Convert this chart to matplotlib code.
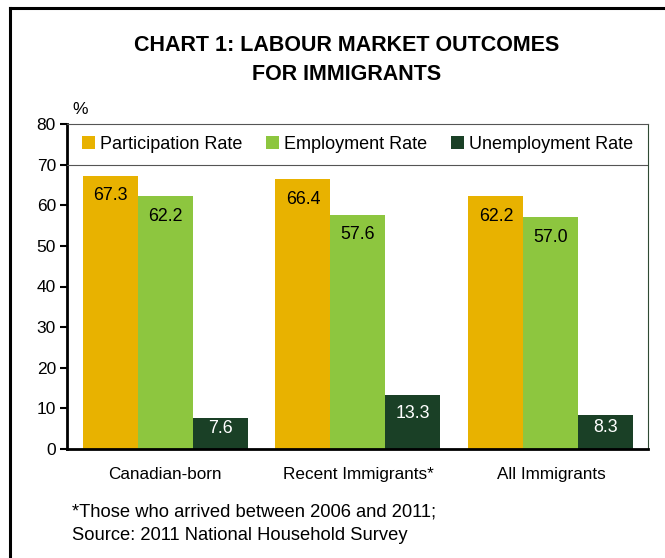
import matplotlib.pyplot as plt
from matplotlib.lines import Line2D
import numpy as np

plt.rcParams['font.family'] = ['Liberation Sans', 'DejaVu Sans']

# datos del grafico
grupos = ['Canadian-born', 'Recent Immigrants*', 'All Immigrants']
series = ['Participation Rate', 'Employment Rate', 'Unemployment Rate']
participacion = [67.3, 66.4, 62.2]
empleo = [62.2, 57.6, 57.0]
desempleo = [7.6, 13.3, 8.3]
colores = ['#E8B200', '#8DC63F', '#1A4026']
color_texto = ['black', 'black', 'white']

W, H = 665, 558
fig = plt.figure(figsize=(W / 100, H / 100), dpi=100)
ax = fig.add_axes([67 / W, 1 - 449 / H, (648 - 67) / W, (449 - 124) / H])

x = np.arange(len(grupos))
ancho = 0.285
valores = [participacion, empleo, desempleo]
for i, vals in enumerate(valores):
    pos = x + (i - 1) * ancho
    ax.bar(pos, vals, ancho, color=colores[i], label=series[i])
    for p, v in zip(pos, vals):
        off = min(4.9, v * 0.35)
        ax.text(p, v - off, f'{v:.1f}', ha='center', va='center',
                fontsize=12.8, color=color_texto[i])

ax.set_xlim(-0.508, 2.503)
ax.set_ylim(0, 80)
ax.set_yticks(range(0, 81, 10))
ax.set_xticks(x)
ax.set_xticklabels(grupos, fontsize=12.3)
ax.tick_params(axis='x', length=0, pad=13)
ax.tick_params(axis='y', labelsize=12.5, length=5, width=1.5, direction='out', pad=3)

for s in ['left', 'bottom']:
    ax.spines[s].set_linewidth(2)
    ax.spines[s].set_color('black')
ax.spines['top'].set_color('#555555')
ax.spines['top'].set_linewidth(0.8)
ax.spines['right'].set_color('#2f4a33')
ax.spines['right'].set_linewidth(0.8)
ax.axhline(70, color='#555555', linewidth=0.8, zorder=3)

ax.legend(loc='center', bbox_to_anchor=(0.5, 75 / 80), ncol=3, frameon=False,
          fontsize=13, handlelength=0.68, handleheight=0.68, handletextpad=0.28,
          columnspacing=1.35, borderaxespad=0)

fig.text(80 / W, 1 - 110 / H, '%', fontsize=12.5, ha='center', va='center')

fig.text(347 / W, 1 - 60 / H, 'CHART 1: LABOUR MARKET OUTCOMES\nFOR IMMIGRANTS',
         ha='center', va='center', fontsize=15.5, fontweight='bold',
         linespacing=1.45)

fig.text(72 / W, 1 - 524 / H,
         '*Those who arrived between 2006 and 2011;\nSource: 2011 National Household Survey',
         ha='left', va='center', fontsize=13.2, linespacing=1.5)

# marco exterior
fig.add_artist(Line2D([10 / W, 10 / W], [0, 1 - 8 / H], color='black', linewidth=2.2,
                      transform=fig.transFigure))
fig.add_artist(Line2D([10 / W, 1], [1 - 8 / H, 1 - 8 / H], color='black', linewidth=2.2,
                      transform=fig.transFigure))

fig.savefig('out.png', dpi=100)
